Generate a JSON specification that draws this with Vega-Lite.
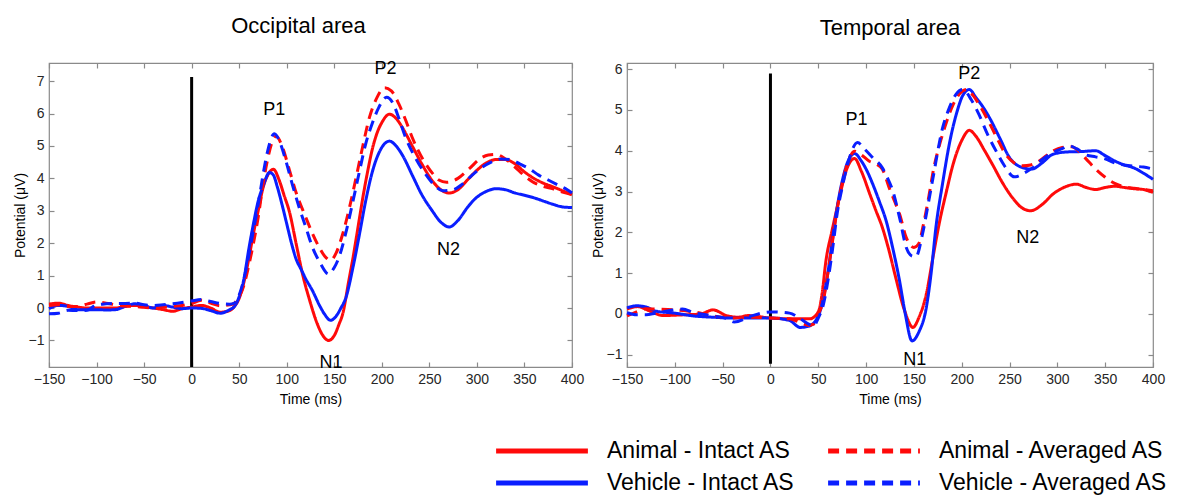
{
  "$schema": "https://vega.github.io/schema/vega-lite/v6.json",
  "background": "white",
  "padding": {"left": 12, "top": 14, "right": 2, "bottom": 2},
  "config": {
    "font": "Liberation Sans",
    "view": {"stroke": "#8a8a8a", "strokeWidth": 1.2},
    "axis": {"grid": false, "domain": false, "tickColor": "#8a8a8a", "tickSize": -5, "tickWidth": 1.2, "labelFontSize": 14, "labelColor": "#262626", "labelPadding": 10, "labelFlush": false, "labelOverlap": false, "titleFontSize": 14, "titleFontWeight": "normal", "titleColor": "#000"},
    "title": {"fontSize": 22, "fontWeight": "normal", "color": "#000", "offset": 22},
    "legend": {"title": null, "orient": "none", "legendX": 477, "legendY": 372, "columns": 2, "symbolType": "M-3.4,0H3.4", "symbolSize": 729, "symbolStrokeWidth": 5, "labelFontSize": 23, "labelColor": "#000", "labelOffset": 49, "columnPadding": 23, "rowPadding": 4, "labelLimit": 400, "padding": 0}
  },
  "datasets": {
    "series": [
      {"s": "AI", "name": "Animal - Intact AS"},
      {"s": "AA", "name": "Animal - Averaged AS"},
      {"s": "VI", "name": "Vehicle - Intact AS"},
      {"s": "VA", "name": "Vehicle - Averaged AS"}
    ],
    "occ": [
      {"s":"AI","t":-150,"v":0.12},{"s":"AI","t":-140,"v":0.15},{"s":"AI","t":-130,"v":0.08},{"s":"AI","t":-120,"v":0.03},{"s":"AI","t":-110,"v":0.0},{"s":"AI","t":-100,"v":0.0},{"s":"AI","t":-90,"v":0.0},{"s":"AI","t":-80,"v":0.0},{"s":"AI","t":-70,"v":0.05},{"s":"AI","t":-60,"v":0.08},{"s":"AI","t":-50,"v":0.04},{"s":"AI","t":-40,"v":0.0},{"s":"AI","t":-30,"v":-0.05},{"s":"AI","t":-20,"v":-0.1},{"s":"AI","t":-10,"v":-0.02},{"s":"AI","t":0,"v":0.03},{"s":"AI","t":10,"v":0.08},{"s":"AI","t":20,"v":0.0},{"s":"AI","t":30,"v":-0.13},{"s":"AI","t":40,"v":-0.08},{"s":"AI","t":45,"v":0.05},{"s":"AI","t":50,"v":0.3},{"s":"AI","t":55,"v":0.8},{"s":"AI","t":60,"v":1.5},{"s":"AI","t":65,"v":2.3},{"s":"AI","t":70,"v":3.0},{"s":"AI","t":75,"v":3.7},{"s":"AI","t":80,"v":4.1},{"s":"AI","t":86,"v":4.28},{"s":"AI","t":92,"v":3.95},{"s":"AI","t":97,"v":3.5},{"s":"AI","t":103,"v":2.95},{"s":"AI","t":110,"v":1.97},{"s":"AI","t":117,"v":1.0},{"s":"AI","t":124,"v":0.25},{"s":"AI","t":131,"v":-0.4},{"s":"AI","t":137,"v":-0.8},{"s":"AI","t":144,"v":-1.0},{"s":"AI","t":150,"v":-0.85},{"s":"AI","t":155,"v":-0.5},{"s":"AI","t":159,"v":-0.17},{"s":"AI","t":165,"v":0.8},{"s":"AI","t":170,"v":1.6},{"s":"AI","t":175,"v":2.5},{"s":"AI","t":180,"v":3.4},{"s":"AI","t":185,"v":4.2},{"s":"AI","t":190,"v":4.9},{"s":"AI","t":195,"v":5.4},{"s":"AI","t":200,"v":5.72},{"s":"AI","t":208,"v":5.98},{"s":"AI","t":215,"v":5.85},{"s":"AI","t":222,"v":5.55},{"s":"AI","t":232,"v":5.0},{"s":"AI","t":242,"v":4.45},{"s":"AI","t":253,"v":3.93},{"s":"AI","t":262,"v":3.65},{"s":"AI","t":271,"v":3.55},{"s":"AI","t":280,"v":3.65},{"s":"AI","t":290,"v":3.95},{"s":"AI","t":300,"v":4.25},{"s":"AI","t":310,"v":4.48},{"s":"AI","t":320,"v":4.58},{"s":"AI","t":330,"v":4.58},{"s":"AI","t":340,"v":4.45},{"s":"AI","t":350,"v":4.2},{"s":"AI","t":360,"v":4.0},{"s":"AI","t":370,"v":3.85},{"s":"AI","t":380,"v":3.74},{"s":"AI","t":390,"v":3.62},{"s":"AI","t":400,"v":3.5},
      {"s":"VI","t":-150,"v":-0.02},{"s":"VI","t":-140,"v":0.08},{"s":"VI","t":-130,"v":0.05},{"s":"VI","t":-120,"v":-0.05},{"s":"VI","t":-110,"v":-0.05},{"s":"VI","t":-100,"v":-0.05},{"s":"VI","t":-90,"v":-0.06},{"s":"VI","t":-80,"v":-0.05},{"s":"VI","t":-70,"v":0.05},{"s":"VI","t":-60,"v":0.13},{"s":"VI","t":-50,"v":0.08},{"s":"VI","t":-40,"v":0.0},{"s":"VI","t":-30,"v":0.08},{"s":"VI","t":-20,"v":0.03},{"s":"VI","t":-10,"v":-0.02},{"s":"VI","t":0,"v":0.0},{"s":"VI","t":10,"v":-0.01},{"s":"VI","t":20,"v":-0.08},{"s":"VI","t":30,"v":-0.16},{"s":"VI","t":40,"v":-0.05},{"s":"VI","t":45,"v":0.05},{"s":"VI","t":50,"v":0.35},{"s":"VI","t":55,"v":0.9},{"s":"VI","t":60,"v":1.8},{"s":"VI","t":65,"v":2.6},{"s":"VI","t":70,"v":3.3},{"s":"VI","t":75,"v":3.75},{"s":"VI","t":82,"v":4.18},{"s":"VI","t":86,"v":4.1},{"s":"VI","t":90,"v":3.75},{"s":"VI","t":95,"v":3.2},{"s":"VI","t":100,"v":2.6},{"s":"VI","t":105,"v":2.0},{"s":"VI","t":110,"v":1.5},{"s":"VI","t":115,"v":1.2},{"s":"VI","t":120,"v":0.9},{"s":"VI","t":127,"v":0.54},{"s":"VI","t":135,"v":0.05},{"s":"VI","t":140,"v":-0.2},{"s":"VI","t":146,"v":-0.38},{"s":"VI","t":152,"v":-0.25},{"s":"VI","t":157,"v":0.0},{"s":"VI","t":162,"v":0.3},{"s":"VI","t":170,"v":1.3},{"s":"VI","t":176,"v":2.2},{"s":"VI","t":183,"v":3.3},{"s":"VI","t":190,"v":4.2},{"s":"VI","t":198,"v":4.85},{"s":"VI","t":208,"v":5.15},{"s":"VI","t":215,"v":5.0},{"s":"VI","t":222,"v":4.7},{"s":"VI","t":232,"v":4.1},{"s":"VI","t":242,"v":3.5},{"s":"VI","t":253,"v":3.0},{"s":"VI","t":262,"v":2.65},{"s":"VI","t":271,"v":2.5},{"s":"VI","t":280,"v":2.7},{"s":"VI","t":290,"v":3.1},{"s":"VI","t":296,"v":3.31},{"s":"VI","t":310,"v":3.6},{"s":"VI","t":320,"v":3.68},{"s":"VI","t":330,"v":3.65},{"s":"VI","t":340,"v":3.55},{"s":"VI","t":350,"v":3.48},{"s":"VI","t":360,"v":3.4},{"s":"VI","t":370,"v":3.3},{"s":"VI","t":380,"v":3.2},{"s":"VI","t":390,"v":3.12},{"s":"VI","t":400,"v":3.1},
      {"s":"AA","t":-150,"v":0.08},{"s":"AA","t":-140,"v":0.1},{"s":"AA","t":-130,"v":0.05},{"s":"AA","t":-120,"v":0.05},{"s":"AA","t":-110,"v":0.12},{"s":"AA","t":-100,"v":0.19},{"s":"AA","t":-90,"v":0.15},{"s":"AA","t":-80,"v":0.1},{"s":"AA","t":-70,"v":0.06},{"s":"AA","t":-60,"v":0.05},{"s":"AA","t":-50,"v":0.02},{"s":"AA","t":-40,"v":0.0},{"s":"AA","t":-30,"v":0.02},{"s":"AA","t":-20,"v":0.05},{"s":"AA","t":-10,"v":0.08},{"s":"AA","t":0,"v":0.14},{"s":"AA","t":10,"v":0.24},{"s":"AA","t":20,"v":0.15},{"s":"AA","t":30,"v":0.07},{"s":"AA","t":40,"v":0.1},{"s":"AA","t":45,"v":0.15},{"s":"AA","t":50,"v":0.35},{"s":"AA","t":55,"v":0.7},{"s":"AA","t":60,"v":1.3},{"s":"AA","t":65,"v":2.0},{"s":"AA","t":70,"v":2.8},{"s":"AA","t":75,"v":3.8},{"s":"AA","t":80,"v":4.6},{"s":"AA","t":85,"v":5.15},{"s":"AA","t":89,"v":5.31},{"s":"AA","t":95,"v":5.0},{"s":"AA","t":103,"v":4.24},{"s":"AA","t":110,"v":3.55},{"s":"AA","t":120,"v":2.8},{"s":"AA","t":127,"v":2.3},{"s":"AA","t":134,"v":1.88},{"s":"AA","t":140,"v":1.6},{"s":"AA","t":146,"v":1.47},{"s":"AA","t":152,"v":1.7},{"s":"AA","t":159,"v":2.3},{"s":"AA","t":166,"v":3.1},{"s":"AA","t":173,"v":4.03},{"s":"AA","t":180,"v":5.0},{"s":"AA","t":187,"v":5.88},{"s":"AA","t":195,"v":6.5},{"s":"AA","t":203,"v":6.8},{"s":"AA","t":210,"v":6.7},{"s":"AA","t":218,"v":6.29},{"s":"AA","t":225,"v":5.8},{"s":"AA","t":232,"v":5.26},{"s":"AA","t":243,"v":4.6},{"s":"AA","t":254,"v":4.13},{"s":"AA","t":260,"v":3.95},{"s":"AA","t":268,"v":3.88},{"s":"AA","t":280,"v":4.0},{"s":"AA","t":292,"v":4.3},{"s":"AA","t":303,"v":4.6},{"s":"AA","t":312,"v":4.72},{"s":"AA","t":320,"v":4.74},{"s":"AA","t":330,"v":4.6},{"s":"AA","t":340,"v":4.35},{"s":"AA","t":350,"v":4.08},{"s":"AA","t":360,"v":3.87},{"s":"AA","t":370,"v":3.75},{"s":"AA","t":380,"v":3.68},{"s":"AA","t":390,"v":3.58},{"s":"AA","t":400,"v":3.5},
      {"s":"VA","t":-150,"v":-0.18},{"s":"VA","t":-140,"v":-0.16},{"s":"VA","t":-130,"v":-0.07},{"s":"VA","t":-120,"v":-0.08},{"s":"VA","t":-110,"v":-0.07},{"s":"VA","t":-100,"v":0.1},{"s":"VA","t":-90,"v":0.13},{"s":"VA","t":-80,"v":0.14},{"s":"VA","t":-70,"v":0.14},{"s":"VA","t":-60,"v":0.15},{"s":"VA","t":-50,"v":0.1},{"s":"VA","t":-40,"v":0.08},{"s":"VA","t":-30,"v":0.1},{"s":"VA","t":-20,"v":0.13},{"s":"VA","t":-10,"v":0.17},{"s":"VA","t":0,"v":0.22},{"s":"VA","t":10,"v":0.26},{"s":"VA","t":20,"v":0.2},{"s":"VA","t":30,"v":0.14},{"s":"VA","t":40,"v":0.12},{"s":"VA","t":45,"v":0.15},{"s":"VA","t":50,"v":0.4},{"s":"VA","t":55,"v":0.9},{"s":"VA","t":60,"v":1.6},{"s":"VA","t":65,"v":2.4},{"s":"VA","t":70,"v":3.2},{"s":"VA","t":75,"v":4.1},{"s":"VA","t":80,"v":4.85},{"s":"VA","t":87,"v":5.38},{"s":"VA","t":93,"v":5.1},{"s":"VA","t":99,"v":4.55},{"s":"VA","t":106,"v":3.8},{"s":"VA","t":113,"v":3.11},{"s":"VA","t":120,"v":2.5},{"s":"VA","t":127,"v":1.88},{"s":"VA","t":135,"v":1.4},{"s":"VA","t":144,"v":1.05},{"s":"VA","t":150,"v":1.25},{"s":"VA","t":155,"v":1.57},{"s":"VA","t":162,"v":2.3},{"s":"VA","t":169,"v":3.21},{"s":"VA","t":176,"v":4.15},{"s":"VA","t":183,"v":5.06},{"s":"VA","t":190,"v":5.7},{"s":"VA","t":197,"v":6.2},{"s":"VA","t":205,"v":6.5},{"s":"VA","t":212,"v":6.3},{"s":"VA","t":218,"v":5.85},{"s":"VA","t":225,"v":5.26},{"s":"VA","t":235,"v":4.65},{"s":"VA","t":246,"v":4.13},{"s":"VA","t":255,"v":3.8},{"s":"VA","t":264,"v":3.62},{"s":"VA","t":275,"v":3.65},{"s":"VA","t":285,"v":3.83},{"s":"VA","t":295,"v":4.1},{"s":"VA","t":303,"v":4.29},{"s":"VA","t":315,"v":4.5},{"s":"VA","t":325,"v":4.6},{"s":"VA","t":335,"v":4.58},{"s":"VA","t":345,"v":4.45},{"s":"VA","t":355,"v":4.3},{"s":"VA","t":365,"v":4.1},{"s":"VA","t":375,"v":3.95},{"s":"VA","t":385,"v":3.8},{"s":"VA","t":395,"v":3.65},{"s":"VA","t":400,"v":3.55}
    ],
    "tem": [
      {"s":"AI","t":-150,"v":0.12},{"s":"AI","t":-139,"v":0.18},{"s":"AI","t":-127,"v":0.08},{"s":"AI","t":-112,"v":-0.04},{"s":"AI","t":-100,"v":-0.03},{"s":"AI","t":-89,"v":-0.02},{"s":"AI","t":-73,"v":0.0},{"s":"AI","t":-60,"v":0.1},{"s":"AI","t":-46,"v":-0.04},{"s":"AI","t":-34,"v":-0.08},{"s":"AI","t":-23,"v":-0.04},{"s":"AI","t":0,"v":-0.1},{"s":"AI","t":23,"v":-0.12},{"s":"AI","t":41,"v":-0.12},{"s":"AI","t":50,"v":0.05},{"s":"AI","t":54,"v":0.5},{"s":"AI","t":58,"v":1.3},{"s":"AI","t":64,"v":2.0},{"s":"AI","t":69,"v":2.53},{"s":"AI","t":74,"v":3.05},{"s":"AI","t":79,"v":3.5},{"s":"AI","t":88,"v":3.81},{"s":"AI","t":95,"v":3.5},{"s":"AI","t":104,"v":2.93},{"s":"AI","t":110,"v":2.55},{"s":"AI","t":117,"v":2.12},{"s":"AI","t":124,"v":1.55},{"s":"AI","t":131,"v":0.89},{"s":"AI","t":140,"v":0.1},{"s":"AI","t":149,"v":-0.33},{"s":"AI","t":155,"v":-0.1},{"s":"AI","t":163,"v":0.49},{"s":"AI","t":170,"v":1.4},{"s":"AI","t":177,"v":2.28},{"s":"AI","t":184,"v":3.0},{"s":"AI","t":191,"v":3.67},{"s":"AI","t":200,"v":4.25},{"s":"AI","t":208,"v":4.5},{"s":"AI","t":215,"v":4.35},{"s":"AI","t":224,"v":4.0},{"s":"AI","t":232,"v":3.67},{"s":"AI","t":243,"v":3.2},{"s":"AI","t":253,"v":2.85},{"s":"AI","t":263,"v":2.6},{"s":"AI","t":272,"v":2.53},{"s":"AI","t":285,"v":2.7},{"s":"AI","t":295,"v":2.93},{"s":"AI","t":305,"v":3.08},{"s":"AI","t":320,"v":3.18},{"s":"AI","t":330,"v":3.1},{"s":"AI","t":340,"v":3.05},{"s":"AI","t":350,"v":3.1},{"s":"AI","t":360,"v":3.13},{"s":"AI","t":370,"v":3.1},{"s":"AI","t":380,"v":3.07},{"s":"AI","t":390,"v":3.05},{"s":"AI","t":400,"v":2.98},
      {"s":"VI","t":-150,"v":0.15},{"s":"VI","t":-140,"v":0.2},{"s":"VI","t":-130,"v":0.17},{"s":"VI","t":-120,"v":0.07},{"s":"VI","t":-100,"v":0.02},{"s":"VI","t":-80,"v":-0.05},{"s":"VI","t":-60,"v":-0.08},{"s":"VI","t":-40,"v":-0.1},{"s":"VI","t":-20,"v":-0.1},{"s":"VI","t":0,"v":-0.1},{"s":"VI","t":20,"v":-0.16},{"s":"VI","t":31,"v":-0.33},{"s":"VI","t":40,"v":-0.3},{"s":"VI","t":50,"v":-0.05},{"s":"VI","t":55,"v":0.35},{"s":"VI","t":60,"v":1.0},{"s":"VI","t":65,"v":1.85},{"s":"VI","t":70,"v":2.65},{"s":"VI","t":75,"v":3.25},{"s":"VI","t":80,"v":3.68},{"s":"VI","t":88,"v":3.93},{"s":"VI","t":95,"v":3.75},{"s":"VI","t":100,"v":3.55},{"s":"VI","t":107,"v":3.18},{"s":"VI","t":114,"v":2.75},{"s":"VI","t":121,"v":2.28},{"s":"VI","t":128,"v":1.6},{"s":"VI","t":135,"v":0.81},{"s":"VI","t":141,"v":0.0},{"s":"VI","t":148,"v":-0.66},{"s":"VI","t":155,"v":-0.45},{"s":"VI","t":163,"v":0.16},{"s":"VI","t":168,"v":1.0},{"s":"VI","t":173,"v":2.12},{"s":"VI","t":180,"v":3.2},{"s":"VI","t":187,"v":4.16},{"s":"VI","t":195,"v":4.95},{"s":"VI","t":201,"v":5.35},{"s":"VI","t":208,"v":5.5},{"s":"VI","t":215,"v":5.3},{"s":"VI","t":222,"v":5.08},{"s":"VI","t":229,"v":4.81},{"s":"VI","t":240,"v":4.3},{"s":"VI","t":250,"v":3.83},{"s":"VI","t":260,"v":3.62},{"s":"VI","t":273,"v":3.55},{"s":"VI","t":284,"v":3.7},{"s":"VI","t":295,"v":3.91},{"s":"VI","t":310,"v":3.97},{"s":"VI","t":325,"v":3.98},{"s":"VI","t":340,"v":4.0},{"s":"VI","t":350,"v":3.88},{"s":"VI","t":360,"v":3.75},{"s":"VI","t":370,"v":3.65},{"s":"VI","t":380,"v":3.58},{"s":"VI","t":390,"v":3.45},{"s":"VI","t":400,"v":3.3},
      {"s":"AA","t":-150,"v":-0.05},{"s":"AA","t":-140,"v":0.05},{"s":"AA","t":-130,"v":0.13},{"s":"AA","t":-120,"v":0.12},{"s":"AA","t":-102,"v":0.1},{"s":"AA","t":-80,"v":0.05},{"s":"AA","t":-60,"v":-0.05},{"s":"AA","t":-40,"v":-0.1},{"s":"AA","t":-20,"v":-0.08},{"s":"AA","t":0,"v":-0.1},{"s":"AA","t":20,"v":-0.12},{"s":"AA","t":30,"v":-0.2},{"s":"AA","t":40,"v":-0.28},{"s":"AA","t":45,"v":-0.25},{"s":"AA","t":50,"v":0.0},{"s":"AA","t":55,"v":0.3},{"s":"AA","t":60,"v":1.0},{"s":"AA","t":65,"v":1.8},{"s":"AA","t":70,"v":2.6},{"s":"AA","t":75,"v":3.2},{"s":"AA","t":80,"v":3.65},{"s":"AA","t":88,"v":3.99},{"s":"AA","t":95,"v":3.9},{"s":"AA","t":103,"v":3.75},{"s":"AA","t":110,"v":3.68},{"s":"AA","t":117,"v":3.55},{"s":"AA","t":124,"v":3.1},{"s":"AA","t":130,"v":2.75},{"s":"AA","t":135,"v":2.45},{"s":"AA","t":142,"v":1.87},{"s":"AA","t":150,"v":1.63},{"s":"AA","t":155,"v":1.72},{"s":"AA","t":160,"v":2.2},{"s":"AA","t":166,"v":2.93},{"s":"AA","t":171,"v":3.6},{"s":"AA","t":177,"v":4.16},{"s":"AA","t":184,"v":4.7},{"s":"AA","t":191,"v":5.13},{"s":"AA","t":198,"v":5.4},{"s":"AA","t":205,"v":5.5},{"s":"AA","t":212,"v":5.35},{"s":"AA","t":219,"v":5.1},{"s":"AA","t":226,"v":4.81},{"s":"AA","t":236,"v":4.35},{"s":"AA","t":246,"v":3.91},{"s":"AA","t":255,"v":3.7},{"s":"AA","t":264,"v":3.63},{"s":"AA","t":272,"v":3.65},{"s":"AA","t":281,"v":3.75},{"s":"AA","t":295,"v":3.99},{"s":"AA","t":305,"v":4.08},{"s":"AA","t":315,"v":4.1},{"s":"AA","t":322,"v":4.0},{"s":"AA","t":330,"v":3.8},{"s":"AA","t":340,"v":3.55},{"s":"AA","t":350,"v":3.35},{"s":"AA","t":360,"v":3.2},{"s":"AA","t":370,"v":3.12},{"s":"AA","t":380,"v":3.08},{"s":"AA","t":390,"v":3.05},{"s":"AA","t":400,"v":3.02},
      {"s":"VA","t":-150,"v":0.03},{"s":"VA","t":-140,"v":-0.02},{"s":"VA","t":-130,"v":-0.02},{"s":"VA","t":-120,"v":0.02},{"s":"VA","t":-100,"v":0.1},{"s":"VA","t":-92,"v":0.12},{"s":"VA","t":-80,"v":0.03},{"s":"VA","t":-60,"v":-0.05},{"s":"VA","t":-45,"v":-0.12},{"s":"VA","t":-38,"v":-0.2},{"s":"VA","t":-20,"v":-0.05},{"s":"VA","t":0,"v":0.05},{"s":"VA","t":20,"v":0.02},{"s":"VA","t":30,"v":-0.1},{"s":"VA","t":40,"v":-0.25},{"s":"VA","t":45,"v":-0.3},{"s":"VA","t":50,"v":-0.1},{"s":"VA","t":55,"v":0.2},{"s":"VA","t":60,"v":0.8},{"s":"VA","t":65,"v":1.6},{"s":"VA","t":70,"v":2.5},{"s":"VA","t":75,"v":3.1},{"s":"VA","t":80,"v":3.6},{"s":"VA","t":86,"v":4.05},{"s":"VA","t":91,"v":4.2},{"s":"VA","t":98,"v":4.05},{"s":"VA","t":107,"v":3.83},{"s":"VA","t":117,"v":3.58},{"s":"VA","t":122,"v":3.35},{"s":"VA","t":128,"v":3.01},{"s":"VA","t":135,"v":2.36},{"s":"VA","t":142,"v":1.63},{"s":"VA","t":148,"v":1.42},{"s":"VA","t":152,"v":1.4},{"s":"VA","t":159,"v":1.96},{"s":"VA","t":165,"v":2.7},{"s":"VA","t":170,"v":3.34},{"s":"VA","t":180,"v":4.56},{"s":"VA","t":187,"v":5.05},{"s":"VA","t":194,"v":5.38},{"s":"VA","t":201,"v":5.5},{"s":"VA","t":210,"v":5.25},{"s":"VA","t":218,"v":4.89},{"s":"VA","t":227,"v":4.4},{"s":"VA","t":236,"v":3.99},{"s":"VA","t":245,"v":3.62},{"s":"VA","t":255,"v":3.36},{"s":"VA","t":265,"v":3.45},{"s":"VA","t":274,"v":3.58},{"s":"VA","t":285,"v":3.8},{"s":"VA","t":295,"v":3.95},{"s":"VA","t":305,"v":4.05},{"s":"VA","t":312,"v":4.12},{"s":"VA","t":320,"v":4.05},{"s":"VA","t":330,"v":3.9},{"s":"VA","t":340,"v":3.85},{"s":"VA","t":350,"v":3.8},{"s":"VA","t":360,"v":3.7},{"s":"VA","t":370,"v":3.65},{"s":"VA","t":380,"v":3.62},{"s":"VA","t":390,"v":3.6},{"s":"VA","t":400,"v":3.55}
    ]
  },
  "spacing": 55,
  "bounds": "flush",
  "resolve": {"scale": {"x": "independent", "y": "independent", "color": "shared", "strokeDash": "shared"}},
  "hconcat": [
    {
      "width": 523,
      "height": 304,
      "title": {"text": "Occipital area", "dx": -12},
      "layer": [
        {
          "data": {"values": [{"t": 0, "v": 7.13, "v2": -1.82}]},
          "mark": {"type": "rule", "strokeWidth": 3, "color": "#000"},
          "encoding": {
            "x": {"field": "t", "type": "quantitative", "scale": {"domain": [-150, 400], "nice": false, "zero": false}, "axis": {"orient": "top", "labels": false, "title": null, "values": [-150,-100,-50,0,50,100,150,200,250,300,350,400]}},
            "y": {"field": "v", "type": "quantitative", "scale": {"domain": [-1.82, 7.56], "nice": false, "zero": false}, "axis": {"orient": "right", "labels": false, "title": null, "values": [-1,0,1,2,3,4,5,6,7]}},
            "y2": {"field": "v2"}
          }
        },
        {
          "data": {"name": "occ"},
          "transform": [{"lookup": "s", "from": {"data": {"name": "series"}, "key": "s", "fields": ["name"]}}],
          "mark": {"type": "line", "strokeWidth": 3, "interpolate": "monotone"},
          "encoding": {
            "x": {"field": "t", "type": "quantitative", "axis": {"title": "Time (ms)", "titlePadding": 6, "values": [-150,-100,-50,0,50,100,150,200,250,300,350,400]}},
            "y": {"field": "v", "type": "quantitative", "axis": {"title": "Potential (μV)", "titlePadding": 1, "values": [-1,0,1,2,3,4,5,6,7]}},
            "color": {"field": "name", "type": "nominal", "scale": {"domain": ["Animal - Intact AS", "Vehicle - Intact AS", "Animal - Averaged AS", "Vehicle - Averaged AS"], "range": ["#ff0a0a", "#0a1eff", "#ff0a0a", "#0a1eff"]}},
            "strokeDash": {"field": "name", "type": "nominal", "scale": {"domain": ["Animal - Intact AS", "Vehicle - Intact AS", "Animal - Averaged AS", "Vehicle - Averaged AS"], "range": [[1, 0], [1, 0], [11, 7], [11, 7]]}}
          }
        },
        {
          "data": {"values": [{"t": 87, "v": 6.1, "label": "P1"}, {"t": 204, "v": 7.36, "label": "P2"}, {"t": 146.5, "v": -1.69, "label": "N1"}, {"t": 270, "v": 1.79, "label": "N2"}]},
          "mark": {"type": "text", "fontSize": 18, "color": "#000"},
          "encoding": {
            "x": {"field": "t", "type": "quantitative", "axis": null},
            "y": {"field": "v", "type": "quantitative", "axis": null},
            "text": {"field": "label"}
          }
        }
      ],
      "resolve": {"axis": {"x": "independent", "y": "independent"}}
    },
    {
      "width": 526,
      "height": 304,
      "title": {"text": "Temporal area"},
      "layer": [
        {
          "data": {"values": [{"t": 0, "v": 5.89, "v2": -1.22}]},
          "mark": {"type": "rule", "strokeWidth": 3, "color": "#000"},
          "encoding": {
            "x": {"field": "t", "type": "quantitative", "scale": {"domain": [-150, 400], "nice": false, "zero": false}, "axis": {"orient": "top", "labels": false, "title": null, "values": [-150,-100,-50,0,50,100,150,200,250,300,350,400]}},
            "y": {"field": "v", "type": "quantitative", "scale": {"domain": [-1.3, 6.15], "nice": false, "zero": false}, "axis": {"orient": "right", "labels": false, "title": null, "values": [-1,0,1,2,3,4,5,6]}},
            "y2": {"field": "v2"}
          }
        },
        {
          "data": {"name": "tem"},
          "transform": [{"lookup": "s", "from": {"data": {"name": "series"}, "key": "s", "fields": ["name"]}}],
          "mark": {"type": "line", "strokeWidth": 3, "interpolate": "monotone"},
          "encoding": {
            "x": {"field": "t", "type": "quantitative", "axis": {"title": "Time (ms)", "titlePadding": 6, "values": [-150,-100,-50,0,50,100,150,200,250,300,350,400]}},
            "y": {"field": "v", "type": "quantitative", "axis": {"title": "Potential (μV)", "titlePadding": 1, "values": [-1,0,1,2,3,4,5,6]}},
            "color": {"field": "name", "type": "nominal", "scale": {"domain": ["Animal - Intact AS", "Vehicle - Intact AS", "Animal - Averaged AS", "Vehicle - Averaged AS"], "range": ["#ff0a0a", "#0a1eff", "#ff0a0a", "#0a1eff"]}},
            "strokeDash": {"field": "name", "type": "nominal", "scale": {"domain": ["Animal - Intact AS", "Vehicle - Intact AS", "Animal - Averaged AS", "Vehicle - Averaged AS"], "range": [[1, 0], [1, 0], [11, 7], [11, 7]]}}
          }
        },
        {
          "data": {"values": [{"t": 90, "v": 4.76, "label": "P1"}, {"t": 208, "v": 5.88, "label": "P2"}, {"t": 151, "v": -1.12, "label": "N1"}, {"t": 269, "v": 1.87, "label": "N2"}]},
          "mark": {"type": "text", "fontSize": 18, "color": "#000"},
          "encoding": {
            "x": {"field": "t", "type": "quantitative", "axis": null},
            "y": {"field": "v", "type": "quantitative", "axis": null},
            "text": {"field": "label"}
          }
        }
      ],
      "resolve": {"axis": {"x": "independent", "y": "independent"}}
    }
  ]
}
